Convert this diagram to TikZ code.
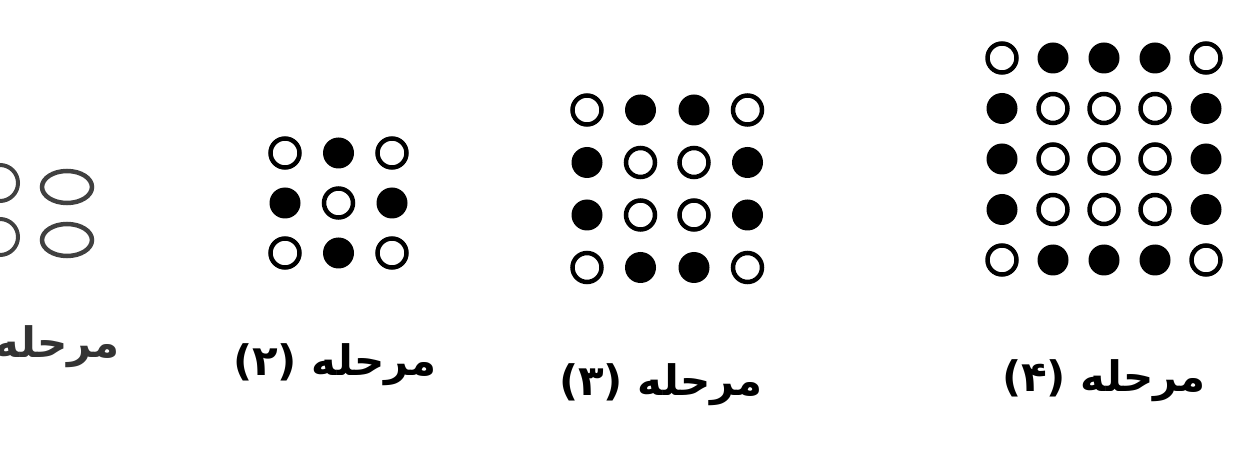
\documentclass[tikz,border=0pt]{standalone}
\usepackage{fontspec}
\newfontfamily\arabicfont[Script=Arabic]{DejaVu Sans}
\TeXXeTstate=1
\begin{document}
\begin{tikzpicture}[x=1pt,y=-1pt,
  opendot/.style={circle,draw=black,line width=4.5pt,fill=white,minimum size=29pt,inner sep=0pt},
  fulldot/.style={circle,fill=black,minimum size=31pt,inner sep=0pt},
  stagelabel/.style={font=\arabicfont\bfseries\fontsize{42}{46}\selectfont,inner sep=0pt}]
\def\oo{o}
\useasboundingbox (0,0) rectangle (1245,462);
\clip (0,0) rectangle (1245,462);
% stage 1 (partly cut off)
\node[circle,draw=black!75,line width=4pt,minimum size=36pt,inner sep=0pt] (s1a) at (0,183) {};
\node[circle,draw=black!75,line width=4pt,minimum size=36pt,inner sep=0pt] (s1b) at (0,237) {};
\draw[black!75,line width=4.5pt] (67,187) ellipse (25 and 16);
\draw[black!75,line width=4.5pt] (67,240) ellipse (25 and 16);
\node[stagelabel,anchor=east,text=black!80] (l1) at (120,347) {\beginR مرحله\endR};
% stage 2
\foreach \r/\row in {0/{o,f,o},1/{f,o,f},2/{o,f,o}}{
  \foreach \t [count=\c from 0] in \row {
    \ifx\t\oo\node[opendot] (b\r\c) at (285+53.5*\c,153+50*\r) {};
    \else\node[fulldot] (b\r\c) at (285+53.5*\c,153+50*\r) {};\fi
  }
}
\node[stagelabel] (l2) at (335,365) {\beginR مرحله (۲)\endR};
% stage 3
\foreach \r/\row in {0/{o,f,f,o},1/{f,o,o,f},2/{f,o,o,f},3/{o,f,f,o}}{
  \foreach \t [count=\c from 0] in \row {
    \ifx\t\oo\node[opendot] (c\r\c) at (587+53.5*\c,110+52.5*\r) {};
    \else\node[fulldot] (c\r\c) at (587+53.5*\c,110+52.5*\r) {};\fi
  }
}
\node[stagelabel] (l3) at (661,385) {\beginR مرحله (۳)\endR};
% stage 4
\foreach \r/\row in {0/{o,f,f,f,o},1/{f,o,o,o,f},2/{f,o,o,o,f},3/{f,o,o,o,f},4/{o,f,f,f,o}}{
  \foreach \t [count=\c from 0] in \row {
    \ifx\t\oo\node[opendot] (d\r\c) at (1002+51*\c,58+50.5*\r) {};
    \else\node[fulldot] (d\r\c) at (1002+51*\c,58+50.5*\r) {};\fi
  }
}
\node[stagelabel] (l4) at (1104,381) {\beginR مرحله (۴)\endR};
\end{tikzpicture}
\end{document}
